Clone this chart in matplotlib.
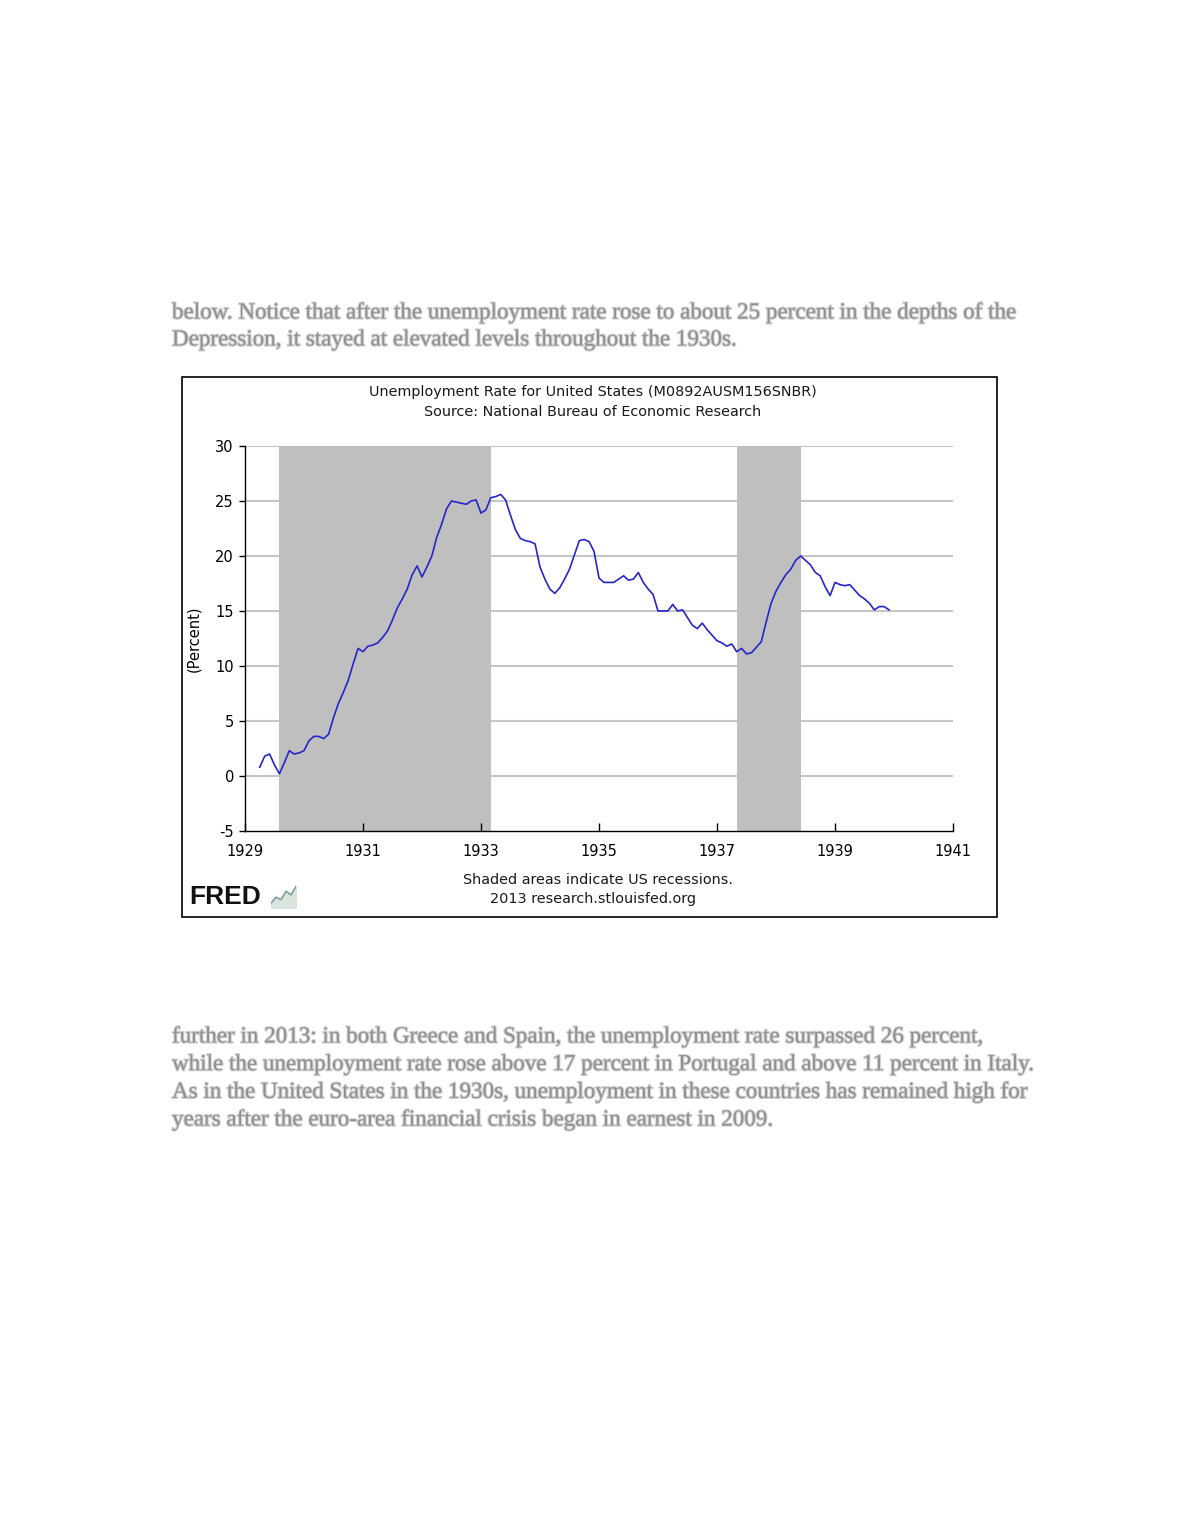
import numpy as np
import pandas as pd
import matplotlib
matplotlib.use("Agg")
import matplotlib.pyplot as plt
from matplotlib.patches import Rectangle
import matplotlib.patheffects as pe

# ---------------- data ----------------
start_month = "1929-04"
unemployment = [
    0.8, 1.8, 2.0, 1.0, 0.2, 1.2, 2.3, 2.0, 2.1,                      # 1929 Apr-Dec
    2.3, 3.2, 3.6, 3.6, 3.4, 3.8, 5.3, 6.6, 7.6, 8.7, 10.2, 11.6,     # 1930
    11.3, 11.8, 11.9, 12.1, 12.6, 13.2, 14.2, 15.3, 16.1, 17.0, 18.3, 19.1,  # 1931
    18.1, 19.0, 20.0, 21.7, 22.9, 24.3, 25.0, 24.9, 24.8, 24.7, 25.0, 25.1,  # 1932
    23.9, 24.2, 25.3, 25.4, 25.6, 25.1, 23.7, 22.4, 21.6, 21.4, 21.3, 21.1,  # 1933
    19.0, 17.9, 17.0, 16.6, 17.1, 17.9, 18.8, 20.1, 21.4, 21.5, 21.3, 20.4,  # 1934
    18.0, 17.6, 17.6, 17.6, 17.9, 18.2, 17.8, 17.9, 18.5, 17.6, 17.0, 16.5,  # 1935
    15.0, 15.0, 15.0, 15.6, 15.0, 15.1, 14.4, 13.7, 13.4, 13.9, 13.3, 12.8,  # 1936
    12.3, 12.1, 11.8, 12.0, 11.3, 11.6, 11.1, 11.2, 11.7, 12.2, 14.0, 15.7,  # 1937
    16.8, 17.6, 18.3, 18.8, 19.6, 20.0, 19.6, 19.2, 18.5, 18.2, 17.2, 16.4,  # 1938
    17.6, 17.4, 17.3, 17.4, 16.9, 16.4, 16.1, 15.7, 15.1, 15.4, 15.4, 15.1,  # 1939
]
recession_starts = ["1929-08", "1937-05"]
recession_ends = ["1933-03", "1938-06"]
x_ticks = [1929, 1931, 1933, 1935, 1937, 1939, 1941]
y_ticks = [-5, 0, 5, 10, 15, 20, 25, 30]

title_line1 = "Unemployment Rate for United States (M0892AUSM156SNBR)"
title_line2 = "Source: National Bureau of Economic Research"
footer_line1 = "Shaded areas indicate US recessions."
footer_line2 = "2013 research.stlouisfed.org"
y_label = "(Percent)"

text_above = [
    "below. Notice that after the unemployment rate rose to about 25 percent in the depths of the",
    "Depression, it stayed at elevated levels throughout the 1930s.",
]
text_below = [
    "further in 2013: in both Greece and Spain, the unemployment rate surpassed 26 percent,",
    "while the unemployment rate rose above 17 percent in Portugal and above 11 percent in Italy.",
    "As in the United States in the 1930s, unemployment in these countries has remained high for",
    "years after the euro-area financial crisis began in earnest in 2009.",
]

logo_icon = [0.2, 0.45, 0.35, 0.7, 0.55, 0.9]


def to_decimal_year(ts):
    ts = pd.Timestamp(ts)
    return ts.year + (ts.month - 1) / 12.0


dates = pd.date_range(start_month, periods=len(unemployment), freq="MS")
xs = np.array([to_decimal_year(d) for d in dates])

# ---------------- figure ----------------
W, H = 1180, 1527
fig = plt.figure(figsize=(W / 100, H / 100), dpi=100)
fig.patch.set_facecolor("white")


def fx(px):
    return px / W


def fy(py):
    return 1 - py / H


# blurred page text (rendered softly)
soft = [pe.withStroke(linewidth=1.6, foreground="#d2d2d2")]
for i, line in enumerate(text_above):
    fig.text(fx(172), fy(313 + i * 27), line, family="Liberation Serif",
             fontsize=16.6, color="#8f8f8f", ha="left", va="center",
             path_effects=soft)
for i, line in enumerate(text_below):
    fig.text(fx(172), fy(1037 + i * 27.7), line, family="Liberation Serif",
             fontsize=16.6, color="#8f8f8f", ha="left", va="center",
             path_effects=soft)

# chart frame
fig.patches.append(Rectangle((fx(182), fy(917)), fx(997) - fx(182), fy(377) - fy(917),
                             transform=fig.transFigure, fill=False,
                             edgecolor="black", linewidth=1.2, zorder=0))

ax = fig.add_axes([fx(245), fy(831), fx(953) - fx(245), fy(446) - fy(831)])
ax.set_xlim(1929, 1941)
ax.set_ylim(-5, 30)

for s, e in zip(recession_starts, recession_ends):
    ax.axvspan(to_decimal_year(s), to_decimal_year(e), color="#bfbfbf", zorder=1, lw=0)

for yv in y_ticks[1:]:
    ax.axhline(yv, color="#c6c6c6", lw=1.5, zorder=0.5)

ax.plot(xs, unemployment, color="#2626c8", lw=1.2, zorder=3)

for side in ["top", "right"]:
    ax.spines[side].set_visible(False)
ax.spines["left"].set_color("black")
ax.spines["bottom"].set_color("black")
ax.spines["left"].set_linewidth(1.0)
ax.spines["bottom"].set_linewidth(1.0)

ax.set_xticks(x_ticks)
ax.set_xticklabels([str(t) for t in x_ticks])
ax.set_yticks(y_ticks)
ax.set_yticklabels([str(t) for t in y_ticks])
ax.tick_params(axis="x", direction="in", length=6, width=1.0, pad=9,
               labelsize=10.5, colors="black")
ax.tick_params(axis="y", direction="out", length=4, width=1.0, pad=4,
               labelsize=10.5, colors="black")
ax.set_ylabel(y_label, fontsize=10.5, labelpad=10)

# titles and footer
fig.text(fx(593), fy(392), title_line1, ha="center", va="center", fontsize=10.4, color="#1a1a1a")
fig.text(fx(593), fy(412), title_line2, ha="center", va="center", fontsize=10.4, color="#1a1a1a")
fig.text(fx(598), fy(880), footer_line1, ha="center", va="center", fontsize=10.4, color="#1a1a1a")
fig.text(fx(593), fy(899), footer_line2, ha="center", va="center", fontsize=10.4, color="#1a1a1a")

# FRED logo
fig.text(fx(189), fy(897), "FRED", ha="left", va="center", fontsize=19,
         fontweight="heavy", color="#111111", family="Liberation Sans")
lax = fig.add_axes([fx(271), fy(908), fx(25), fy(884) - fy(908)])
lax.plot(np.arange(len(logo_icon)), logo_icon, color="#7fa0a0", lw=1.2)
lax.fill_between(np.arange(len(logo_icon)), 0, logo_icon, color="#d8e4dc")
lax.set_xlim(0, len(logo_icon) - 1)
lax.set_ylim(0, 1)
lax.axis("off")

fig.savefig("out.png", dpi=100, facecolor="white")
